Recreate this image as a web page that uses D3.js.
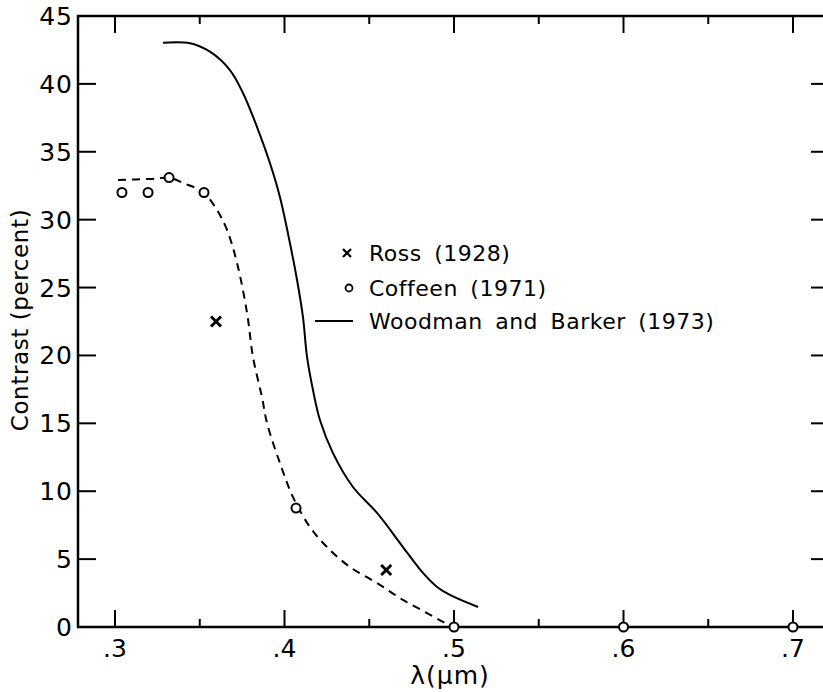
<!DOCTYPE html>
<html>
<head>
<meta charset="utf-8">
<script src="https://cdn.jsdelivr.net/npm/d3@7"></script>
<style>
  body { margin: 0; background: #fff; }
  text { font-family: "DejaVu Sans", sans-serif; fill: #000; }
</style>
</head>
<body>
<div id="root"></div>
<script>
// Woodman and Barker (1973), solid curve
const woodmanLambda = [0.3283, 0.3442, 0.3560, 0.3678, 0.3755, 0.3838, 0.3914, 0.3973, 0.4032, 0.4074, 0.4109, 0.4133, 0.4168, 0.4209, 0.4286, 0.4404, 0.4546, 0.4699, 0.4817, 0.4900, 0.4976, 0.5142];
const woodmanContrast = [43.03, 42.99, 42.37, 41.02, 39.33, 36.82, 34.17, 31.67, 28.28, 25.56, 22.83, 19.89, 17.45, 15.25, 12.81, 10.31, 8.40, 5.89, 3.98, 2.95, 2.36, 1.47];

// dashed curve through Coffeen points
const dashLambda = [0.3018, 0.3206, 0.3324, 0.3401, 0.3519, 0.3602, 0.3661, 0.3720, 0.3779, 0.3814, 0.3867, 0.3897, 0.3973, 0.4050, 0.4150, 0.4251, 0.4386, 0.4546, 0.4699, 0.4841, 0.4935, 0.4976];
const dashContrast = [32.92, 33.0, 33.07, 32.7, 32.04, 30.71, 29.24, 26.81, 23.13, 19.89, 16.94, 15.02, 12.08, 9.57, 7.36, 5.89, 4.42, 3.24, 1.99, 1.03, 0.37, 0.15];

// Coffeen (1971) circles
const coffeenLambda = [0.3041, 0.3195, 0.3319, 0.3525, 0.4068, 0.5, 0.6, 0.7];
const coffeenContrast = [32.0, 32.0, 33.1, 32.0, 8.76, 0, 0, 0];

// Ross (1928) crosses
const rossLambda = [0.3596, 0.4600];
const rossContrast = [22.5, 4.2];

const xMajor = [0.3, 0.4, 0.5, 0.6, 0.7];
const xMinor = [0.35, 0.45, 0.55, 0.65];
const xLabels = ['.3', '.4', '.5', '.6', '.7'];
const yTicks = [0, 5, 10, 15, 20, 25, 30, 35, 40, 45];
const legendNames = ['Ross (1928)', 'Coffeen (1971)', 'Woodman and Barker (1973)'];

const width = 823, height = 692;
const pLeft = 78, pRight = 825, pTop = 16, pBottom = 627;

const x = d3.scaleLinear().domain([0.3, 0.7]).range([115, 793]);
x.domain([x.invert(pLeft), x.invert(pRight)]).range([pLeft, pRight]);
const y = d3.scaleLinear().domain([0, 45]).range([pBottom, pTop]);

const svg = d3.select('#root').append('svg')
  .attr('width', width).attr('height', height);

// frame
svg.append('rect')
  .attr('x', pLeft).attr('y', pTop)
  .attr('width', pRight - pLeft).attr('height', pBottom - pTop)
  .attr('fill', 'none').attr('stroke', '#000').attr('stroke-width', 2.5);

// x ticks, bottom and top, pointing in
const xt = svg.append('g').attr('stroke', '#000').attr('stroke-width', 2);
xMajor.forEach(v => {
  xt.append('line').attr('x1', x(v)).attr('x2', x(v)).attr('y1', pBottom).attr('y2', pBottom - 17);
  xt.append('line').attr('x1', x(v)).attr('x2', x(v)).attr('y1', pTop).attr('y2', pTop + 17);
});
xMinor.forEach(v => {
  xt.append('line').attr('x1', x(v)).attr('x2', x(v)).attr('y1', pBottom).attr('y2', pBottom - 8);
  xt.append('line').attr('x1', x(v)).attr('x2', x(v)).attr('y1', pTop).attr('y2', pTop + 8);
});
xMajor.forEach((v, i) => {
  svg.append('text').attr('x', x(v)).attr('y', pBottom + 30)
    .attr('text-anchor', 'middle').attr('font-size', 25)
    .text(xLabels[i]);
});

// y ticks, left and right
yTicks.forEach(v => {
  if (v > 0 && v < 45) {
    xt.append('line').attr('x1', pLeft).attr('x2', pLeft + 18).attr('y1', y(v)).attr('y2', y(v));
    xt.append('line').attr('x1', pRight).attr('x2', pRight - 14).attr('y1', y(v)).attr('y2', y(v));
  }
  svg.append('text').attr('x', 73).attr('y', y(v)).attr('dy', '0.36em')
    .attr('text-anchor', 'end').attr('font-size', 25).attr('letter-spacing', 1)
    .text(v);
});

// axis titles
svg.append('text')
  .attr('transform', `translate(28,${320}) rotate(-90)`)
  .attr('text-anchor', 'middle').attr('font-size', 23).attr('letter-spacing', 0.6)
  .text('Contrast (percent)');
svg.append('text').attr('x', 450).attr('y', 684)
  .attr('text-anchor', 'middle').attr('font-size', 25).attr('letter-spacing', 1)
  .text('λ(μm)');

// curves
const line = d3.line().curve(d3.curveCatmullRom.alpha(0.5));
svg.append('path')
  .attr('d', line(woodmanLambda.map((v, i) => [x(v), y(woodmanContrast[i])])))
  .attr('fill', 'none').attr('stroke', '#000').attr('stroke-width', 2);
svg.append('path')
  .attr('d', line(dashLambda.map((v, i) => [x(v), y(dashContrast[i])])))
  .attr('fill', 'none').attr('stroke', '#000').attr('stroke-width', 2)
  .attr('stroke-dasharray', '8,6');

// Coffeen circles
svg.append('g').selectAll('circle')
  .data(coffeenLambda.map((v, i) => [v, coffeenContrast[i]]))
  .enter().append('circle')
  .attr('cx', d => x(d[0])).attr('cy', d => y(d[1])).attr('r', 4.5)
  .attr('fill', '#fff').attr('stroke', '#000').attr('stroke-width', 2);

// Ross crosses
const cross = (cx, cy, s) => `M${cx - s},${cy - s}L${cx + s},${cy + s}M${cx - s},${cy + s}L${cx + s},${cy - s}`;
svg.append('g').selectAll('path')
  .data(rossLambda.map((v, i) => [v, rossContrast[i]]))
  .enter().append('path')
  .attr('d', d => cross(x(d[0]), y(d[1]), 5))
  .attr('stroke', '#000').attr('stroke-width', 3);

// legend
const lg = svg.append('g');
lg.append('path').attr('d', cross(347, 253, 4)).attr('stroke', '#000').attr('stroke-width', 2.2);
lg.append('circle').attr('cx', 349).attr('cy', 288).attr('r', 3.5)
  .attr('fill', 'none').attr('stroke', '#000').attr('stroke-width', 1.8);
lg.append('line').attr('x1', 315).attr('x2', 353).attr('y1', 321).attr('y2', 321)
  .attr('stroke', '#000').attr('stroke-width', 2);
[261, 296, 329].forEach((ty, i) => {
  lg.append('text').attr('x', 369).attr('y', ty).attr('font-size', 22)
    .attr('letter-spacing', 0.5).attr('word-spacing', 5)
    .text(legendNames[i]);
});
</script>
</body>
</html>
